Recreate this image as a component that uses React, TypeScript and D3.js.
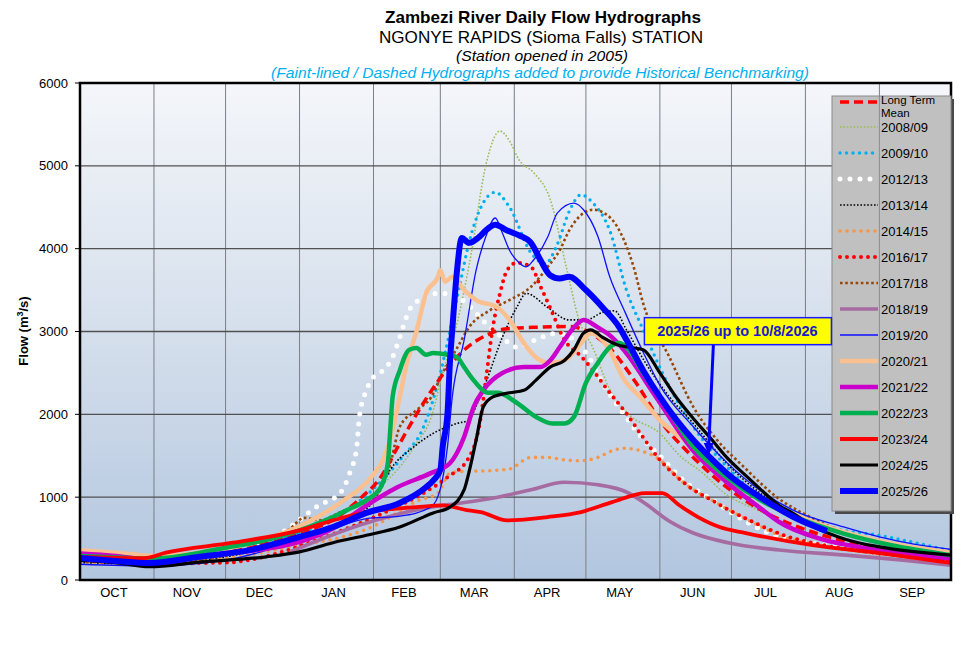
import { useEffect } from 'react';
import * as d3 from 'd3';

type Pt = [number, number]; // [days since 1 Oct, flow m3/s]

const MONTHS = ['OCT', 'NOV', 'DEC', 'JAN', 'FEB', 'MAR', 'APR', 'MAY', 'JUN', 'JUL', 'AUG', 'SEP'];
const MONTH_DAYS = [31, 30, 31, 31, 28, 31, 30, 31, 30, 31, 31, 30];
const Y_TICKS = [0, 1000, 2000, 3000, 4000, 5000, 6000];

const longTermMean: Pt[] = [
  [0, 290], [15, 265], [31, 250], [45, 270], [61, 330], [76, 420], [92, 560], [108, 760], [118, 1000],
  [125, 1200], [134, 1650], [141, 2000], [150, 2400], [160, 2750], [170, 2950], [178, 3030], [190, 3050],
  [205, 3060], [212, 3010], [222, 2800], [233, 2380], [243, 1930], [257, 1480], [271, 1120], [285, 850],
  [300, 650], [320, 470], [340, 340], [365, 240],
];
const y2008: Pt[] = [
  [0, 230], [31, 200], [61, 280], [92, 520], [115, 800], [125, 1100], [135, 1400], [141, 1650], [147, 1950],
  [152, 2500], [158, 3100], [164, 3950], [170, 5000], [176, 5420], [180, 5300], [184, 5070], [190, 4920],
  [197, 4600], [204, 3750], [209, 3150], [215, 2800], [222, 2300], [230, 2000], [243, 1770], [251, 1510],
  [261, 1290], [270, 1050], [285, 830], [300, 620], [320, 440], [340, 330], [365, 240],
];
const y2009: Pt[] = [
  [0, 260], [31, 230], [61, 320], [92, 560], [110, 800], [123, 1100], [135, 1480], [144, 1850], [150, 2380],
  [155, 3000], [159, 3540], [163, 4070], [168, 4500], [174, 4680], [180, 4500], [189, 3950], [195, 3820],
  [200, 4050], [205, 4450], [210, 4650], [215, 4550], [222, 4220], [229, 3500], [236, 3020], [247, 2330],
  [257, 1850], [271, 1370], [285, 1000], [299, 770], [307, 700], [320, 600], [335, 540], [350, 450], [365, 350],
];
const y2012: Pt[] = [
  [0, 260], [31, 220], [61, 330], [76, 430], [85, 580], [100, 900], [109, 1050], [113, 1290], [116, 1610],
  [117, 1950], [120, 2290], [123, 2450], [127, 2530], [131, 2690], [134, 2930], [138, 3260], [142, 3380],
  [148, 3460], [154, 3460], [162, 3340], [170, 3100], [177, 2930], [183, 2810], [191, 2900], [200, 2980],
  [207, 2900], [213, 2700], [219, 2380], [228, 2000], [236, 1700], [243, 1500], [253, 1200], [265, 965],
  [280, 690], [293, 520], [321, 400], [342, 360], [365, 300],
];
const y2013: Pt[] = [
  [0, 210], [31, 190], [61, 280], [92, 500], [110, 700], [123, 950], [130, 1330], [140, 1610], [148, 1770],
  [158, 1890], [163, 1930], [166, 2100], [170, 2380], [177, 2930], [183, 3290], [187, 3460], [196, 3290],
  [205, 3140], [212, 3140], [219, 3230], [224, 3250], [229, 3020], [237, 2620], [247, 2210], [257, 1890],
  [271, 1410], [285, 1050], [299, 810], [320, 560], [340, 420], [365, 320],
];
const y2014: Pt[] = [
  [0, 220], [31, 190], [61, 260], [92, 420], [110, 520], [123, 650], [130, 760], [141, 950], [150, 1050],
  [155, 1290], [160, 1310], [172, 1320], [180, 1340], [189, 1480], [196, 1480], [203, 1450], [210, 1440],
  [217, 1480], [223, 1560], [228, 1590], [236, 1550], [243, 1450], [250, 1250], [257, 1090], [265, 960],
  [272, 845], [285, 650], [293, 540], [310, 420], [330, 330], [365, 230],
];
const y2016: Pt[] = [
  [0, 240], [31, 200], [61, 210], [80, 300], [96, 450], [110, 600], [130, 845], [144, 1050], [154, 1240],
  [163, 1480], [166, 1690], [168, 1970], [170, 2400], [173, 3050], [176, 3460], [179, 3740], [183, 3830],
  [189, 3780], [193, 3540], [197, 3290], [203, 2900], [210, 2700], [215, 2530], [222, 2260], [229, 2010],
  [236, 1720], [243, 1450], [250, 1250], [257, 1090], [265, 960], [272, 845], [285, 660], [293, 560],
  [310, 430], [330, 340], [365, 240],
];
const y2017: Pt[] = [
  [0, 230], [31, 200], [61, 300], [88, 620], [94, 750], [100, 720], [110, 830], [120, 950], [125, 1050],
  [130, 1400], [134, 1850], [141, 2050], [147, 2200], [152, 2500], [158, 2800], [163, 3050], [172, 3260],
  [180, 3380], [189, 3540], [196, 3780], [201, 3980], [205, 4220], [211, 4430], [215, 4470], [222, 4380],
  [228, 4100], [232, 3780], [236, 3340], [247, 2690], [257, 2090], [267, 1690], [278, 1370], [292, 1000],
  [306, 760], [325, 530], [345, 400], [365, 320],
];
const y2018: Pt[] = [
  [88, 340], [100, 480], [117, 660], [134, 800], [147, 880], [160, 930], [175, 1000], [189, 1090],
  [203, 1180], [217, 1150], [230, 1050], [237, 920], [247, 710], [257, 567], [272, 447], [293, 362],
  [321, 300], [345, 240], [365, 180],
];
const y2019: Pt[] = [
  [0, 190], [31, 170], [61, 240], [92, 480], [106, 620], [120, 740], [134, 770], [147, 880], [151, 1100],
  [154, 1610], [156, 2210], [161, 2900], [166, 3740], [170, 4140], [174, 4370], [177, 4190], [180, 3980],
  [184, 3830], [187, 3780], [190, 3860], [196, 4140], [200, 4430], [207, 4550], [211, 4470], [217, 4150],
  [222, 3660], [228, 3260], [236, 2750], [243, 2350], [257, 1850], [271, 1420], [285, 1080], [299, 840],
  [320, 640], [335, 520], [350, 430], [365, 370],
];
const y2020: Pt[] = [
  [0, 360], [15, 330], [31, 290], [61, 380], [92, 650], [110, 950], [122, 1240], [127, 1450], [131, 1810],
  [134, 2210], [137, 2620], [141, 3000], [145, 3460], [150, 3660], [151, 3740], [153, 3600], [156, 3660],
  [161, 3500], [166, 3380], [175, 3290], [180, 3140], [186, 2860], [191, 2690], [197, 2620], [203, 2650],
  [210, 2860], [214, 2980], [221, 2820], [228, 2420], [235, 2200], [243, 1930], [257, 1610], [271, 1290],
  [285, 1000], [300, 780], [320, 580], [340, 440], [365, 330],
];
const y2021: Pt[] = [
  [0, 320], [15, 290], [31, 240], [61, 320], [92, 460], [106, 620], [119, 880], [133, 1120], [147, 1290],
  [155, 1410], [161, 1730], [165, 2090], [169, 2290], [177, 2500], [186, 2570], [193, 2570], [197, 2650],
  [201, 2810], [207, 3050], [211, 3140], [217, 3050], [223, 2930], [230, 2700], [237, 2400], [243, 2140],
  [257, 1560], [271, 1180], [285, 870], [293, 700], [310, 500], [330, 380], [365, 260],
];
const y2022: Pt[] = [
  [0, 290], [31, 260], [61, 390], [76, 470], [92, 600], [106, 760], [112, 845], [120, 965], [126, 1120],
  [129, 1410], [130, 1810], [131, 2210], [134, 2530], [138, 2780], [141, 2800], [145, 2720], [148, 2740],
  [154, 2720], [158, 2690], [161, 2570], [165, 2410], [171, 2260], [175, 2260], [183, 2140], [191, 1970],
  [198, 1890], [203, 1890], [207, 1970], [212, 2380], [217, 2620], [222, 2810], [226, 2860], [229, 2810],
  [236, 2500], [243, 2210], [257, 1610], [271, 1240], [285, 965], [300, 760], [320, 560], [340, 420],
  [365, 300],
];
const y2023: Pt[] = [
  [0, 280], [27, 265], [36, 330], [64, 450], [92, 600], [106, 720], [120, 820], [141, 880], [152, 900],
  [162, 845], [168, 820], [179, 720], [196, 760], [210, 820], [223, 940], [237, 1050], [244, 1050],
  [251, 905], [259, 760], [268, 640], [279, 567], [307, 420], [335, 325], [365, 205],
];
const y2024: Pt[] = [
  [0, 240], [15, 210], [29, 160], [50, 215], [78, 280], [92, 340], [106, 450], [120, 540], [134, 640],
  [148, 810], [155, 880], [161, 1090], [163, 1300], [166, 1690], [169, 2090], [173, 2210], [180, 2260],
  [186, 2290], [191, 2410], [197, 2570], [203, 2650], [207, 2780], [211, 2980], [214, 3020], [219, 2930],
  [225, 2840], [230, 2810], [236, 2780], [243, 2500], [250, 2200], [257, 1950], [264, 1720], [271, 1480],
  [279, 1260], [285, 1100], [293, 900], [299, 800], [307, 650], [321, 490], [335, 400], [365, 300],
];
const y2025: Pt[] = [
  [0, 265], [15, 230], [29, 205], [50, 280], [71, 360], [92, 520], [106, 640], [120, 810], [134, 930],
  [145, 1120], [148, 1200], [151, 1330], [152, 1610], [154, 2010], [155, 2620], [156, 3020], [158, 3740],
  [160, 4130], [163, 4070], [168, 4160], [170, 4220], [174, 4290], [179, 4220], [184, 4160], [189, 4070],
  [193, 3860], [197, 3680], [201, 3640], [205, 3660], [212, 3500], [219, 3290], [226, 3050], [229, 2900],
  [236, 2530], [243, 2210], [250, 1930], [257, 1690], [264, 1480], [271, 1290], [285, 1000], [299, 760],
  [313, 590],
];

const NOTE_TEXT = '2025/26 up to 10/8/2026';
const NOTE_AT: Pt = [275.5, 3010];
const NOTE_ARROW_TO: Pt = [263.5, 1510];

interface Series {
  name: string;
  data: Pt[];
  color: string;
  width: number;
  dash?: string;
  cap?: 'round' | 'butt';
}

const SERIES: Series[] = [
  { name: 'Long Term Mean', data: longTermMean, color: '#ff0000', width: 3.5, dash: '9,5' },
  { name: '2008/09', data: y2008, color: '#9bbb59', width: 1.6, dash: '1.6,1.8' },
  { name: '2009/10', data: y2009, color: '#00b0f0', width: 3.4, dash: '0,6.5', cap: 'round' },
  { name: '2012/13', data: y2012, color: '#ffffff', width: 5, dash: '0,10', cap: 'round' },
  { name: '2013/14', data: y2013, color: '#000000', width: 1.6, dash: '1.6,1.8' },
  { name: '2014/15', data: y2014, color: '#f79646', width: 3.6, dash: '0,7', cap: 'round' },
  { name: '2016/17', data: y2016, color: '#ff0000', width: 4, dash: '0,7', cap: 'round' },
  { name: '2017/18', data: y2017, color: '#974706', width: 2.6, dash: '2.6,2.6' },
  { name: '2018/19', data: y2018, color: '#a66ca2', width: 3.6 },
  { name: '2019/20', data: y2019, color: '#1010ff', width: 1.3 },
  { name: '2020/21', data: y2020, color: '#fac090', width: 4.5 },
  { name: '2021/22', data: y2021, color: '#cc00cc', width: 4.5 },
  { name: '2022/23', data: y2022, color: '#00b050', width: 4.5 },
  { name: '2023/24', data: y2023, color: '#ff0000', width: 3.8 },
  { name: '2024/25', data: y2024, color: '#000000', width: 3.2 },
  { name: '2025/26', data: y2025, color: '#0000ff', width: 6 },
];

const W = 963;
const H = 655;
const margin = { top: 83, right: 12, bottom: 75, left: 80 };

export default function App() {
  useEffect(() => {
    document.body.style.margin = '0';
  }, []);

  const x = d3.scaleLinear().domain([0, 365]).range([margin.left, W - margin.right]);
  const y = d3.scaleLinear().domain([0, 6000]).range([H - margin.bottom, margin.top]);
  const monthStarts = [0, ...d3.cumsum(MONTH_DAYS)];

  const line = d3
    .line<Pt>()
    .x((d) => x(d[0]))
    .y((d) => y(d[1]))
    .curve(d3.curveMonotoneX);

  // faint historical first, LTM above them, recent years on top
  const dotted = SERIES.slice(1, 8);
  const solid = SERIES.slice(8, 15);
  const drawOrder = [...dotted, SERIES[0], ...solid, SERIES[15]];

  const legendX = 832;
  const legendY = 96;
  const noteX = x(NOTE_AT[0]);
  const noteY = y(NOTE_AT[1]);
  const arrowX = x(NOTE_ARROW_TO[0]);
  const arrowY = y(NOTE_ARROW_TO[1]);

  const font = 'Liberation Sans, Arial, sans-serif';

  return (
    <svg width={W} height={H} style={{ display: 'block', background: '#fff' }} fontFamily={font}>
      <defs>
        <linearGradient id="bg" x1="0" y1="0" x2="0" y2="1">
          <stop offset="0%" stopColor="#f4f6fa" />
          <stop offset="50%" stopColor="#d5dfec" />
          <stop offset="100%" stopColor="#b2c6df" />
        </linearGradient>
        <clipPath id="plot">
          <rect x={x(0)} y={y(6000)} width={x(365) - x(0)} height={y(0) - y(6000)} />
        </clipPath>
      </defs>

      <text x={543} y={23} textAnchor="middle" fontSize={17} fontWeight="bold" textLength={316} lengthAdjust="spacingAndGlyphs">
        Zambezi River Daily Flow Hydrographs
      </text>
      <text x={541} y={43} textAnchor="middle" fontSize={17} textLength={324} lengthAdjust="spacingAndGlyphs">
        NGONYE RAPIDS (Sioma Falls) STATION
      </text>
      <text x={542} y={61} textAnchor="middle" fontSize={15} fontStyle="italic" textLength={172} lengthAdjust="spacingAndGlyphs">
        (Station opened in 2005)
      </text>
      <text x={540} y={78} textAnchor="middle" fontSize={15} fontStyle="italic" fill="#00b0f0" textLength={538} lengthAdjust="spacingAndGlyphs">
        (Faint-lined / Dashed Hydrographs added to provide Historical Benchmarking)
      </text>

      <rect x={x(0)} y={y(6000)} width={x(365) - x(0)} height={y(0) - y(6000)} fill="url(#bg)" />

      {monthStarts.slice(1, -1).map((d) => (
        <line key={d} x1={x(d)} x2={x(d)} y1={y(6000)} y2={y(0)} stroke="#7a7f88" strokeWidth={1} />
      ))}
      {Y_TICKS.slice(1, -1).map((v) => (
        <line key={v} x1={x(0)} x2={x(365)} y1={y(v)} y2={y(v)} stroke="#505050" strokeWidth={1.3} />
      ))}

      <g clipPath="url(#plot)">
        {drawOrder.map((s) => (
          <path
            key={s.name}
            d={line(s.data) ?? ''}
            fill="none"
            stroke={s.color}
            strokeWidth={s.width}
            strokeDasharray={s.dash}
            strokeLinecap={s.cap ?? 'butt'}
            strokeLinejoin="round"
          />
        ))}
      </g>

      <rect x={x(0)} y={y(6000)} width={x(365) - x(0)} height={y(0) - y(6000)} fill="none" stroke="#000" strokeWidth={2.5} />

      {Y_TICKS.map((v) => (
        <g key={v}>
          <line x1={x(0) - 5} x2={x(0)} y1={y(v)} y2={y(v)} stroke="#000" strokeWidth={1} />
          <text x={x(0) - 12} y={y(v)} dy="0.35em" textAnchor="end" fontSize={13}>
            {v}
          </text>
        </g>
      ))}
      {MONTHS.map((m, i) => (
        <text key={m} x={x((monthStarts[i] + monthStarts[i + 1]) / 2) - 3} y={597} textAnchor="middle" fontSize={13}>
          {m}
        </text>
      ))}
      <text transform={`translate(28,331) rotate(-90)`} textAnchor="middle" fontSize={13} fontWeight="bold">
        Flow (m<tspan dy={-5} fontSize={9}>3</tspan><tspan dy={5}>/s)</tspan>
      </text>

      {/* legend */}
      <rect x={legendX + 3} y={legendY + 3} width={119} height={415} fill="#4a4a4a" />
      <rect x={legendX} y={legendY} width={119} height={415} fill="#c0c0c0" stroke="#8a8a8a" strokeWidth={1} />
      <line x1={x(335)} x2={x(335)} y1={legendY} y2={legendY + 415} stroke="#808080" strokeWidth={0.8} />
      {SERIES.map((s, i) => {
        const cy = i === 0 ? legendY + 6 : legendY + 31 + (i - 1) * 26;
        return (
          <g key={s.name}>
            <line
              x1={legendX + 8}
              x2={legendX + 46}
              y1={cy}
              y2={cy}
              stroke={s.color}
              strokeWidth={s.width}
              strokeDasharray={s.dash}
              strokeLinecap={s.cap ?? 'butt'}
            />
            {i === 0 ? (
              <text x={legendX + 49} fontSize={11.5}>
                <tspan x={legendX + 49} y={legendY + 8}>Long Term</tspan>
                <tspan x={legendX + 49} y={legendY + 21}>Mean</tspan>
              </text>
            ) : (
              <text x={legendX + 49} y={cy} dy="0.38em" fontSize={13}>
                {s.name}
              </text>
            )}
          </g>
        );
      })}

      {/* annotation */}
      <line x1={noteX - 24} y1={noteY + 13} x2={arrowX} y2={arrowY - 9} stroke="#0000ff" strokeWidth={3} />
      <path
        d={`M${arrowX},${arrowY} L${arrowX - 5},${arrowY - 12} L${arrowX + 5},${arrowY - 12} Z`}
        fill="#0000ff"
      />
      <rect x={noteX - 93} y={noteY - 13} width={187} height={27} fill="#ffff00" stroke="#1a1aff" strokeWidth={1.5} />
      <text x={noteX} y={noteY} dy="0.36em" textAnchor="middle" fontSize={14.5} fontWeight="bold" fill="#1a1acc">
        {NOTE_TEXT}
      </text>
    </svg>
  );
}
